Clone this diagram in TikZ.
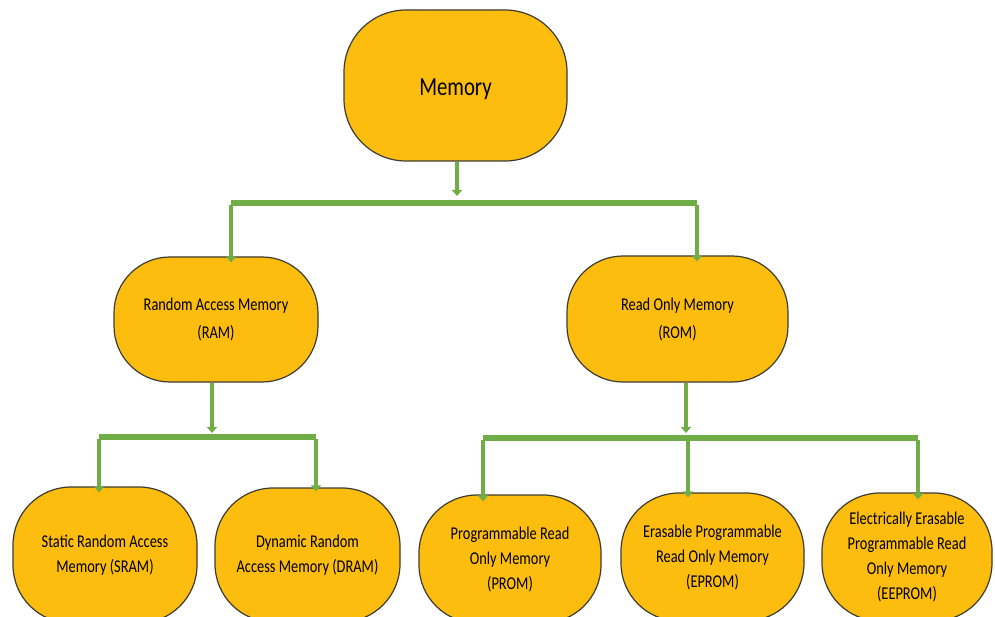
\documentclass[tikz,border=0pt]{standalone}
\usepackage{fontspec}
\setmainfont{Carlito}[FakeStretch=0.8]
\usetikzlibrary{arrows.meta}
\definecolor{boxfill}{RGB}{252,189,14}
\definecolor{boxline}{RGB}{60,60,50}
\definecolor{conn}{RGB}{112,173,71}
\tikzset{
  memnode/.style={draw=boxline, fill=boxfill, line width=1.2pt, rounded corners=#1, align=center, inner sep=0pt, font=\fontsize{18}{25}\selectfont},
  memnode/.default=58pt,
  vline/.style={draw=conn, line width=3.8pt, -{Triangle[width=10pt,length=6pt]}},
  hbar/.style={draw=conn, line width=6.5pt},
}
\begin{document}
\begin{tikzpicture}[x=1pt,y=-1pt]
\useasboundingbox (0,0) rectangle (995,617);
\fill[white] (0,0) rectangle (995,617);
\clip (0,0) rectangle (995,617);
% nodes
\node[memnode=62pt, minimum width=223pt, minimum height=151pt, font=\fontsize{26}{30}\selectfont] (mem) at (455.5,85.5) {\raisebox{-4pt}[\height][\depth]{Memory}};
\node[memnode=56pt, minimum width=204pt, minimum height=125pt, font=\fontsize{18}{28}\selectfont] (ram) at (216,319.5) {Random Access Memory\\(RAM)};
\node[memnode=56pt, minimum width=221pt, minimum height=126pt, font=\fontsize{18}{28}\selectfont] (rom) at (677.5,319) {Read Only Memory\\(ROM)};
\node[memnode, minimum width=184pt, minimum height=136pt] (sram) at (105,555) {Static Random Access\\Memory (SRAM)};
\node[memnode, minimum width=185pt, minimum height=134pt] (dram) at (307.5,555) {Dynamic Random\\Access Memory (DRAM)};
\node[memnode, minimum width=182pt, minimum height=128pt] (prom) at (510,559) {Programmable Read\\Only Memory\\(PROM)};
\node[memnode, minimum width=183pt, minimum height=128pt] (eprom) at (712.5,557) {Erasable Programmable\\Read Only Memory\\(EPROM)};
\node[memnode, minimum width=170pt, minimum height=128pt] (eeprom) at (907,557) {Electrically Erasable\\Programmable Read\\Only Memory\\(EEPROM)};
% level 1 connectors
\coordinate (m0) at (457,196);
\coordinate (bL) at (231,203);
\coordinate (bR) at (697,203);
\draw[vline] (mem.south -| m0) -- (m0);
\draw[hbar] (bL) -- (bR);
\draw[vline] ([yshift=-2pt]bL) -- ([yshift=-6pt]bL |- ram.north);
\draw[vline] ([yshift=-2pt]bR) -- ([yshift=-6pt]bR |- rom.north);
% RAM connectors
\coordinate (r0) at (212,433);
\coordinate (rL) at (99,437);
\coordinate (rR) at (316,437);
\draw[vline] (ram.south -| r0) -- (r0);
\draw[hbar] (rL) -- (rR);
\draw[vline] ([yshift=-2pt]rL) -- ([yshift=-6pt]rL |- sram.north);
\draw[vline] ([yshift=-2pt]rR) -- ([yshift=-4pt]rR |- dram.north);
% ROM connectors
\coordinate (o0) at (686,433);
\coordinate (oL) at (483,438);
\coordinate (oM) at (688,438);
\coordinate (oR) at (918,438);
\draw[vline] (rom.south -| o0) -- (o0);
\draw[hbar] (oL) -- (oR);
\draw[vline] ([yshift=-2pt]oL) -- ([yshift=-7pt]oL |- prom.north);
\draw[vline] ([yshift=-2pt]oM) -- ([yshift=-5pt]oM |- eprom.north);
\draw[vline] ([yshift=-2pt]oR) -- ([yshift=-7pt]oR |- eeprom.north);
\end{tikzpicture}
\end{document}
